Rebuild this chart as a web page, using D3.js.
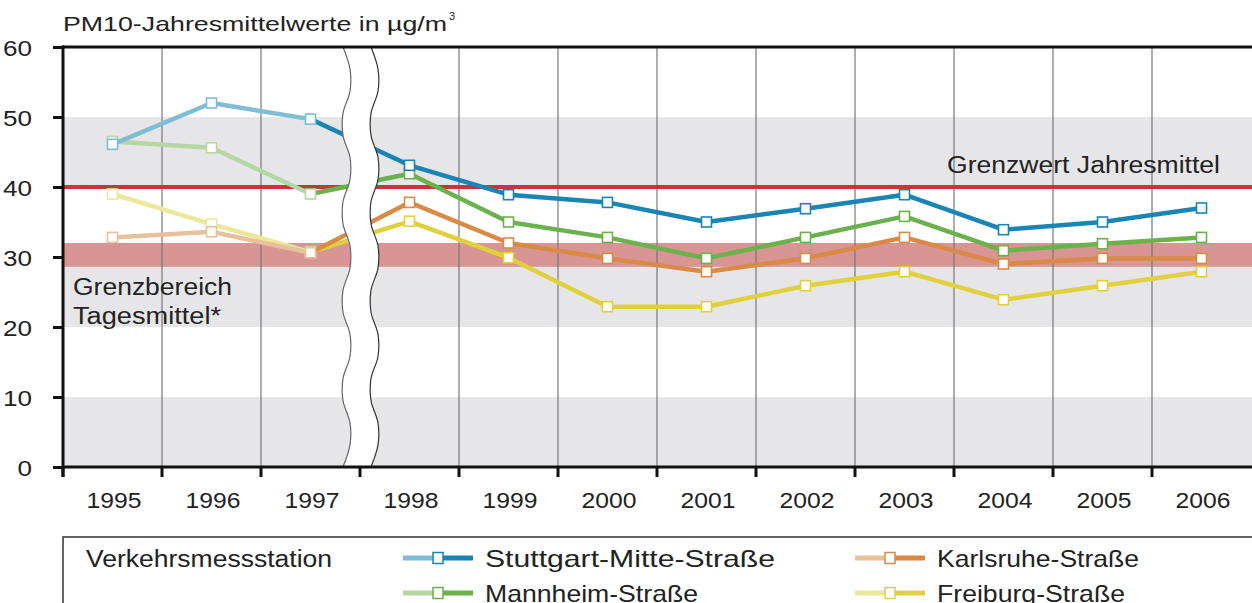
<!DOCTYPE html>
<html><head><meta charset="utf-8">
<script src="https://cdn.jsdelivr.net/npm/d3@7"></script>
<style>
html,body{margin:0;padding:0;background:#fff;}
svg{display:block;font-family:"Liberation Sans",Arial,sans-serif;}
</style></head>
<body><svg id="c" width="1252" height="603"></svg>
<script>
const years = ["1995","1996","1997","1998","1999","2000","2001","2002","2003","2004","2005","2006"];
const stuttgart = [46.1, 52, 49.7, 43.1, 38.9, 37.8, 35, 36.9, 38.9, 33.9, 35, 37];
const mannheim  = [46.5, 45.6, 39, 41.9, 35, 32.8, 29.8, 32.8, 35.8, 30.9, 31.9, 32.8];
const karlsruhe = [32.8, 33.6, 30.6, 37.8, 32, 29.8, 27.9, 29.8, 32.8, 29, 29.8, 29.8];
const freiburg  = [39, 34.7, 30.7, 35.1, 29.9, 22.9, 22.9, 25.9, 27.9, 23.9, 25.9, 27.9];
const yTicks = [0, 10, 20, 30, 40, 50, 60];
const grayBands = [[0, 10], [20, 30], [40, 50]];
const limitBand = [28.6, 32];
const limitLine = 40;
const seriesNames = ["Stuttgart-Mitte-Straße", "Mannheim-Straße", "Karlsruhe-Straße", "Freiburg-Straße"];
const lightColors = ["#7fbdd6", "#b6d6a2", "#e7c19c", "#ebe89c"];
const darkColors  = ["#1a84b4", "#6bb14c", "#d98a46", "#e0d03e"];
const seriesData = [stuttgart, mannheim, karlsruhe, freiburg];
const breakAfterIndex = 2; // segments up to 1997 drawn in light colour

const svg = d3.select("#c");
const L = 63, R = 1251, T = 47, B = 467;
const x = d3.scaleBand().domain(years).range([L, R]);
const y = d3.scaleLinear().domain([0, 60]).range([B, T]);
const cx = d => x(d) + x.bandwidth() / 2;
const TXT = "#222";
function fit(sel, w) { return sel.attr("textLength", w).attr("lengthAdjust", "spacingAndGlyphs"); }

// background bands
svg.append("g").selectAll("rect").data(grayBands).join("rect")
  .attr("x", L).attr("width", R - L + 2)
  .attr("y", d => y(d[1])).attr("height", d => y(d[0]) - y(d[1]))
  .attr("fill", "#e6e6e8");
svg.append("rect").attr("x", L).attr("width", R - L + 2)
  .attr("y", y(limitBand[1])).attr("height", y(limitBand[0]) - y(limitBand[1]))
  .attr("fill", "#d99494");

// vertical grid lines
svg.append("g").selectAll("line").data(years.slice(1)).join("line")
  .attr("x1", d => x(d)).attr("x2", d => x(d))
  .attr("y1", T).attr("y2", B)
  .attr("stroke", "#777").attr("stroke-width", 1.2);

// red limit line
svg.append("line").attr("x1", L).attr("x2", 1252)
  .attr("y1", y(limitLine)).attr("y2", y(limitLine))
  .attr("stroke", "#c0393a").attr("stroke-width", 4);

// series lines
const order = [3, 2, 1, 0];
order.forEach(i => {
  const vals = seriesData[i];
  const g = svg.append("g");
  const pts = years.map((yr, k) => [cx(yr), y(vals[k])]);
  g.append("path").attr("d", d3.line()(pts.slice(0, breakAfterIndex + 1)))
    .attr("fill", "none").attr("stroke", lightColors[i]).attr("stroke-width", 4.5).attr("stroke-linejoin", "round");
  g.append("path").attr("d", d3.line()(pts.slice(breakAfterIndex)))
    .attr("fill", "none").attr("stroke", darkColors[i]).attr("stroke-width", 4.5).attr("stroke-linejoin", "round");
  g.selectAll("rect").data(years).join("rect")
    .attr("x", d => cx(d) - 5).attr("y", (d, k) => y(vals[k]) - 5)
    .attr("width", 10).attr("height", 10)
    .attr("fill", "#fff")
    .attr("stroke", (d, k) => k <= breakAfterIndex ? lightColors[i] : darkColors[i])
    .attr("stroke-width", 1.6);
});

// axis break (wavy white strip)
(function () {
  const offs = [0, 7, 7, 0, 0, 7, 7, 0, 0, 7, 7, 0, 0, 7, 7, 0, 0, 7, 7, 0];
  const n = offs.length - 1;
  const left = offs.map((o, k) => [343 + o, T + (B - T) * k / n]);
  const right = left.map(p => [p[0] + 28, p[1]]);
  const ln = d3.line().curve(d3.curveCatmullRom);
  const rr = right.slice().reverse();
  svg.append("path").attr("d", ln(left) + "L" + ln(rr).slice(1) + "Z")
    .attr("fill", "#fff").attr("stroke", "none");
  svg.append("path").attr("d", ln(left)).attr("fill", "none").attr("stroke", "#666").attr("stroke-width", 1.2);
  svg.append("path").attr("d", ln(right)).attr("fill", "none").attr("stroke", "#333").attr("stroke-width", 1.2);
})();

// axes
const yAxis = svg.append("g").attr("transform", `translate(${L},0)`)
  .call(d3.axisLeft(y).tickValues(yTicks).tickSize(10).tickPadding(21));
yAxis.select(".domain").remove();
yAxis.selectAll(".tick line").attr("stroke", "#111").attr("stroke-width", 3);
yAxis.selectAll(".tick text").attr("font-size", 22).attr("fill", TXT)
  .attr("font-family", "Liberation Sans, Arial, sans-serif").attr("dy", "0.4em")
  .each(function (d) { fit(d3.select(this), String(d).length * 14.5); });

const xAxis = svg.append("g").attr("transform", `translate(0,${B})`)
  .call(d3.axisBottom(x).tickSize(0).tickPadding(0));
xAxis.select(".domain").remove();
xAxis.selectAll(".tick text").attr("font-size", 22).attr("fill", TXT)
  .attr("font-family", "Liberation Sans, Arial, sans-serif")
  .attr("dy", null).attr("y", 41).attr("x", 1.5)
  .each(function () { fit(d3.select(this), 55); });
svg.append("g").selectAll("line").data(years).join("line")
  .attr("x1", d => x(d)).attr("x2", d => x(d)).attr("y1", B).attr("y2", B + 10)
  .attr("stroke", "#111").attr("stroke-width", 3);

// frame lines
svg.append("line").attr("x1", L - 1).attr("x2", 1252).attr("y1", T).attr("y2", T).attr("stroke", "#111").attr("stroke-width", 3);
svg.append("line").attr("x1", L - 1).attr("x2", 1252).attr("y1", B).attr("y2", B).attr("stroke", "#111").attr("stroke-width", 3);
svg.append("line").attr("x1", L).attr("x2", L).attr("y1", T - 1.5).attr("y2", B + 10).attr("stroke", "#111").attr("stroke-width", 3);

// texts
const tg = svg.append("text").attr("x", 63).attr("y", 31).attr("font-size", 21).attr("fill", TXT);
fit(tg.append("tspan").text("PM10-Jahresmittelwerte in µg/m"), 384);
tg.append("tspan").attr("font-size", 11).attr("dy", -11).attr("dx", 2).text("3");
fit(svg.append("text").attr("x", 947).attr("y", 173)
  .attr("font-size", 23).attr("fill", TXT).text("Grenzwert Jahresmittel"), 273);
fit(svg.append("text").attr("x", 73).attr("y", 295).attr("font-size", 23).attr("fill", TXT).text("Grenzbereich"), 159);
fit(svg.append("text").attr("x", 73).attr("y", 324).attr("font-size", 23).attr("fill", TXT).text("Tagesmittel*"), 148);

// legend
svg.append("path").attr("d", `M${L},${620}V${537}H1252`).attr("fill", "none").attr("stroke", "#333").attr("stroke-width", 1.5);
fit(svg.append("text").attr("x", 86).attr("y", 567).attr("font-size", 23).attr("fill", TXT).text("Verkehrsmessstation"), 246);
const legPos = [[403, 558], [403, 593], [855, 558], [855, 593]];
const legW = [290, 213, 202, 188];
seriesNames.forEach((name, i) => {
  const [lx, ly] = legPos[i];
  svg.append("line").attr("x1", lx).attr("x2", lx + 35).attr("y1", ly).attr("y2", ly)
    .attr("stroke", lightColors[i]).attr("stroke-width", 5);
  svg.append("line").attr("x1", lx + 35).attr("x2", lx + 70).attr("y1", ly).attr("y2", ly)
    .attr("stroke", darkColors[i]).attr("stroke-width", 5);
  svg.append("rect").attr("x", lx + 30).attr("y", ly - 5.5).attr("width", 10).attr("height", 11)
    .attr("fill", "#fff").attr("stroke", darkColors[i]).attr("stroke-width", 1.5);
  fit(svg.append("text").attr("x", lx + 82).attr("y", ly + 9).attr("font-size", 24).attr("fill", TXT).text(name), legW[i]);
});
</script></body></html>
